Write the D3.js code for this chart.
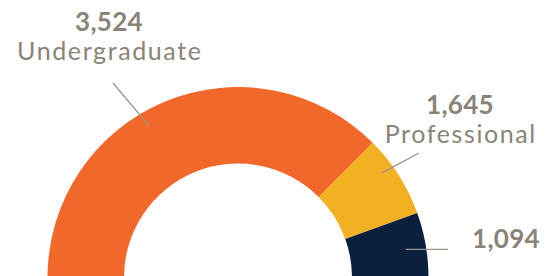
<!DOCTYPE html>
<html>
<head>
<meta charset="utf-8">
<script src="https://cdn.jsdelivr.net/npm/d3@7"></script>
<style>
  html, body { margin: 0; padding: 0; background: #fff; }
  svg { display: block; }
</style>
</head>
<body>
<svg id="chart" width="559" height="276"></svg>
<script>
// enrollment counts shown in the labels
const categories = ["Undergraduate", "Professional", "Graduate"];
const counts = [3524, 1645, 1094];
// share of the half ring each arc takes in the picture (%)
const arcShare = [75, 14, 11];
const sliceColors = ["#F1682A", "#F2B123", "#0B1F3F"];

const W = 559, H = 276;
const cx = 238, cy = 277.5;
const outerR = 190.5, innerR = 114;
const textColor = "#8A8478";
const lineColor = "#9C978C";

// label layout: text centre, angle + radius where the leader line touches the ring
const labelLayout = [
  { x: 109, y: 31, showName: true, tip: { angle: -30.4, r: 176 }, from: [113, 83] },
  { x: 460, y: 114, showName: true, tip: { angle: 54, r: 178 }, from: [419, 153] },
  { x: 506, y: 248, showName: false, tip: { angle: 80.5, r: 170 }, from: [448, 249.3] }
];

const data = categories.map((c, i) => ({ name: c, count: counts[i], share: arcShare[i], color: sliceColors[i] }));

const svg = d3.select("#chart");

const pie = d3.pie()
  .value(d => d.share)
  .sort(null)
  .startAngle(-Math.PI / 2)
  .endAngle(Math.PI / 2);

const arc = d3.arc().innerRadius(innerR).outerRadius(outerR);

const g = svg.append("g").attr("transform", `translate(${cx},${cy})`);

g.selectAll(".sector")
  .data(pie(data))
  .join("path")
  .classed("sector", true)
  .attr("d", arc)
  .style("fill", d => d.data.color);

const fmt = d3.format(",");

data.forEach((d, i) => {
  const L = labelLayout[i];
  const [tx, ty] = d3.pointRadial(L.tip.angle * Math.PI / 180, L.tip.r);
  svg.append("line")
    .attr("x1", L.from[0]).attr("y1", L.from[1])
    .attr("x2", cx + tx).attr("y2", cy + ty)
    .style("stroke", lineColor)
    .style("stroke-width", 1.3);

  svg.append("text")
    .attr("x", L.x).attr("y", L.y)
    .attr("text-anchor", "middle")
    .style("font-family", "Lato, sans-serif")
    .style("font-weight", 700)
    .style("font-size", "26px")
    .style("letter-spacing", "0.3px")
    .style("fill", textColor)
    .text(fmt(d.count));

  if (L.showName) {
    svg.append("text")
      .attr("x", L.x + 0.8).attr("y", L.y + 29)
      .attr("text-anchor", "middle")
      .style("font-family", "Lato, sans-serif")
      .style("font-size", "25px")
      .style("letter-spacing", "1.6px")
      .style("fill", textColor)
      .text(d.name);
  }
});
</script>
</body>
</html>
